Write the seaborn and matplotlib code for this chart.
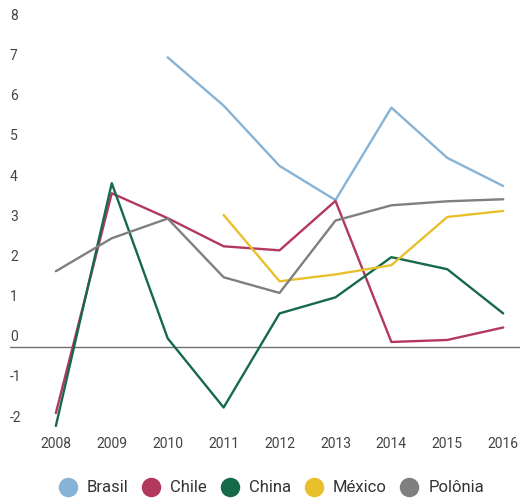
import numpy as np
import pandas as pd
import matplotlib
matplotlib.use("Agg")
import matplotlib.pyplot as plt
import matplotlib.transforms as mtransforms
from matplotlib.lines import Line2D
import seaborn as sns

years = [2008, 2009, 2010, 2011, 2012, 2013, 2014, 2015, 2016]
brasil = [np.nan, np.nan, 7.2, 6.0, 4.5, 3.65, 5.95, 4.7, 4.0]
chile = [-1.65, 3.82, 3.2, 2.5, 2.4, 3.63, 0.12, 0.17, 0.48]
china = [-1.97, 4.07, 0.21, -1.51, 0.83, 1.23, 2.23, 1.93, 0.83]
mexico = [np.nan, np.nan, np.nan, 3.28, 1.63, 1.8, 2.03, 3.23, 3.38]
polonia = [1.88, 2.70, 3.19, 1.73, 1.34, 3.14, 3.52, 3.62, 3.67]
series_names = ["Brasil", "Chile", "China", "México", "Polônia"]
y_ticks = [-2, -1, 0, 1, 2, 3, 4, 5, 6, 7, 8]

colors = ["#86b3d6", "#b3385e", "#16694a", "#e8c02c", "#7f7f7f"]

rows = []
for name, vals in zip(series_names, [brasil, chile, china, mexico, polonia]):
    for yr, v in zip(years, vals):
        rows.append({"Ano": yr, "Valor": v, "País": name})
df = pd.DataFrame(rows).dropna()

sns.set_theme(style="white")
plt.rcParams["font.family"] = ["Roboto", "DejaVu Sans"]

fig = plt.figure(figsize=(5.2, 5.0), dpi=100)
ax = fig.add_axes([10 / 520, 1 - 430 / 500, 1 - 10 / 520, 410 / 500])

sns.lineplot(data=df, x="Ano", y="Valor", hue="País", hue_order=series_names,
             palette=colors, linewidth=1.7, ax=ax, legend=False, sort=True)

ax.set_xlim(2007.18, 2016.30)
ax.set_ylim(-2.07, 8.13)
ax.axhline(0, color="#6e6e6e", linewidth=1.0, zorder=0)

for s in ax.spines.values():
    s.set_visible(False)
ax.set_xlabel("")
ax.set_ylabel("")
ax.set_xticks(years)
ax.set_xticklabels([str(y) for y in years], fontsize=10, color="#444444")
ax.tick_params(axis="x", length=0, pad=5)
ax.set_yticks([])

trans = mtransforms.blended_transform_factory(ax.transAxes, ax.transData)
offset = mtransforms.ScaledTranslation(0, 9.5 / 100, fig.dpi_scale_trans)
for t in y_ticks:
    ax.text(0.0, t, str(t), transform=trans + offset, ha="left", va="center",
            fontsize=10, color="#444444")

handles = [Line2D([], [], marker="o", linestyle="", markersize=13,
                  markerfacecolor=c, markeredgecolor=c) for c in colors]
fig.legend(handles, series_names, loc="center", bbox_to_anchor=(0.521, 1 - 488 / 500),
           ncol=5, frameon=False, fontsize=12, handletextpad=0.55,
           columnspacing=0.75, handlelength=1.2, labelcolor="#333333")

fig.savefig("out.png", dpi=100)
